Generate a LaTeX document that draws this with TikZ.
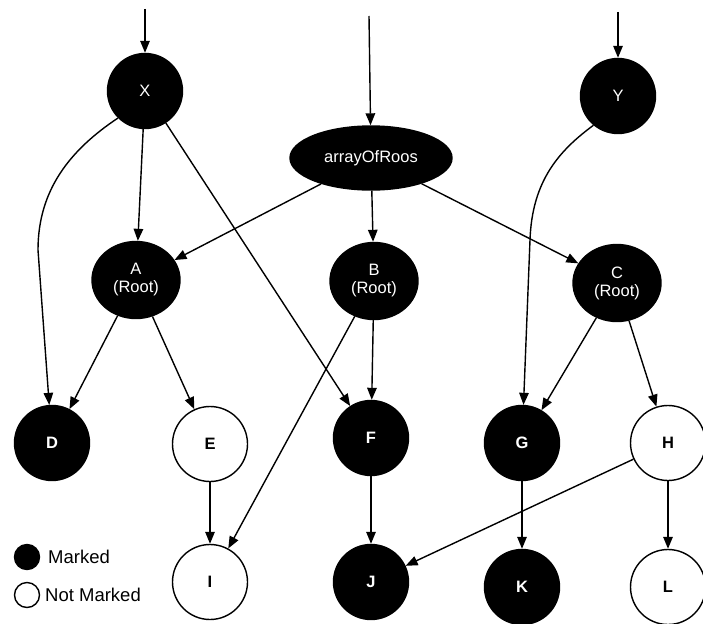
\documentclass[tikz,border=0pt]{standalone}
\usepackage{fontspec}
\setmainfont{Liberation Sans}
\usetikzlibrary{shapes.geometric,arrows.meta}

\begin{document}
\begin{tikzpicture}[x=1pt,y=-1pt,
  every node/.style={font=\fontsize{16.5}{18}\selectfont},
  conn/.style={line width=1.4pt, -{Triangle[length=12pt,width=9.5pt]}},
  marked/.style={circle, draw=black, fill=black, text=white, line width=1.4pt,
    minimum size=75pt, inner sep=0pt},
  unmarked/.style={circle, draw=black, fill=white, text=black, line width=1.4pt,
    minimum size=75pt, inner sep=0pt},
  rootnode/.style={ellipse, draw=black, fill=black, text=white, line width=1.4pt,
    minimum width=88pt, minimum height=77pt, inner sep=0pt, align=center},
  keydot/.style={circle, draw=black, line width=1.4pt, minimum size=25pt, inner sep=0pt},
  keytext/.style={anchor=west, inner sep=0pt, font=\fontsize{18.5}{20}\selectfont},
  bold/.style={font=\fontsize{16.5}{18}\selectfont\bfseries},
]
\useasboundingbox (0,0) rectangle (703,623);

% entry points
\node[marked] (X) at (145,91) {X};
\node[ellipse, draw=black, fill=black, text=white, line width=1.4pt,
      minimum width=162pt, minimum height=64pt, inner sep=0pt] (R) at (371,158) {arrayOfRoos};
\node[marked] (Y) at (618,96) {Y};

% roots
\node[rootnode] (A) at (136,280) {A\\(Root)};
\node[rootnode] (B) at (374,281) {B\\(Root)};
\node[rootnode] (C) at (617,283) {C\\(Root)};

% second level
\node[marked, bold] (D) at (52,443) {D};
\node[unmarked, bold] (E) at (210,444) {E};
\node[marked, bold] (F) at (371,438) {F};
\node[marked, bold] (G) at (522,443) {G};
\node[unmarked, bold] (H) at (668,443) {H};

% third level
\node[unmarked, bold] (I) at (210,582) {I};
\node[marked, bold] (J) at (371,582) {J};
\node[marked, bold] (K) at (522,587) {K};
\node[unmarked, bold] (L) at (668,587) {L};

% legend
\node[keydot, fill=black] (mk) at (27,557) {};
\node[keydot, fill=white] (nm) at (27,595) {};
\node[keytext] (mkl) at (48,557) {Marked};
\node[keytext] (nml) at (45,595) {Not Marked};

% incoming references
\coordinate (xin) at (145,9);
\coordinate (rin) at (369,16);
\coordinate (yin) at (618,12);
\draw[conn] (xin) -- (X);
\draw[conn] (rin) -- (R);
\draw[conn] (yin) -- (Y);

% bend points of the long curved references
\coordinate (dbend) at (38,250);
\coordinate (gbend) at (530,240);

\draw[conn] (X.225) .. controls (70,150) and (38,190) .. (dbend) -- (D);
\draw[conn] (X) -- (A);
\draw[conn] (X) -- (F);
\draw[conn] (R) -- (A);
\draw[conn] (R) -- (B);
\draw[conn] (R) -- (C);
\draw[conn] (Y.230) .. controls (560,150) and (532,180) .. (gbend) -- (G);
\draw[conn] (A) -- (D);
\draw[conn] (A) -- (E);
\draw[conn] (B) -- (F);
\draw[conn] (B) -- (I);
\draw[conn] (C) -- (G);
\draw[conn] (C) -- (H);
\draw[conn] (E) -- (I);
\draw[conn] (F) -- (J);
\draw[conn] (G) -- (K);
\draw[conn] (H) -- (J);
\draw[conn] (H) -- (L);
\end{tikzpicture}
\end{document}
